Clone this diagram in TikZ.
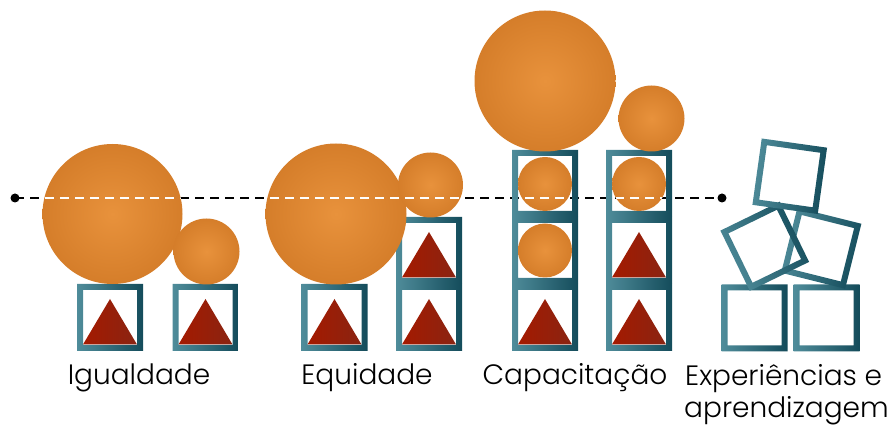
\documentclass[tikz,border=0pt]{standalone}
\usepackage{fontspec}
\setmainfont{Poppins}[UprightFont={* Light}]
\definecolor{orL}{HTML}{E8923C}
\definecolor{orD}{HTML}{C26918}
\definecolor{tlL}{HTML}{4F8C9A}
\definecolor{tlD}{HTML}{144C5B}
\definecolor{rdL}{HTML}{A41A00}
\definecolor{rdD}{HTML}{8A2412}
\pgfdeclareradialshading{orb}{\pgfpoint{0bp}{0bp}}{color(0bp)=(orL); color(50bp)=(orD)}
\tikzset{
  orbfill/.style={shading=orb},
  frame/.pic={\shade[left color=tlL, right color=tlD, even odd rule]
     (-33,-33.5) rectangle (33,33.5) (-27,-27.5) rectangle (27,27.5);},
  rframe/.pic={\shade[left color=tlL, right color=tlD, shading angle=90+#1, even odd rule, rotate=#1]
     (-33,-33.5) rectangle (33,33.5) (-27,-27.5) rectangle (27,27.5);},
  tri/.pic={\shade[left color=rdL, right color=rdD]
     (-27,27) -- (0,-18.5) -- (27,27) -- cycle;},
  dashline/.style={line width=2.4pt, dash pattern=on 8.5pt off 6.5pt},
  lbl/.style={font=\fontsize{28}{32}\selectfont, inner sep=0pt, anchor=base},
}
\begin{document}
\begin{tikzpicture}[x=1pt,y=-1pt]
\useasboundingbox (0,0) rectangle (892,427);
% ---------- dashed line (behind the shapes)
\coordinate (dotA) at (15,198);
\coordinate (dotB) at (722,198);
\draw[dashline, black] (dotA) -- (dotB);
% ---------- Igualdade
\pic at (110,317.5) {frame}; \pic at (110,317.5) {tri};
\pic at (205.5,317.5) {frame}; \pic at (205.5,317.5) {tri};
\shade[orbfill] (112.5,214) circle (70);
\shade[orbfill] (206.5,251.5) circle (33);
% ---------- Equidade
\pic at (334.5,317.5) {frame}; \pic at (334.5,317.5) {tri};
\pic at (429,317.5) {frame}; \pic at (429,317.5) {tri};
\pic at (429,250.5) {frame}; \pic at (429,250.5) {tri};
\shade[orbfill] (336,214) circle (70.5);
\shade[orbfill] (430.5,185) circle (32.5);
% ---------- Capacitacao
\pic at (545,317.5) {frame}; \pic at (545,317.5) {tri};
\pic at (545,250.5) {frame};
\pic at (545,183.5) {frame};
\pic at (639,317.5) {frame}; \pic at (639,317.5) {tri};
\pic at (639,250.5) {frame}; \pic at (639,250.5) {tri};
\pic at (639,183.5) {frame};
\shade[orbfill] (545,250.5) circle (27);
\shade[orbfill] (545,184) circle (27);
\shade[orbfill] (639,184) circle (27);
\shade[orbfill] (545,81) circle (70.5);
\shade[orbfill] (651.5,118.5) circle (33);
% ---------- Experiencias
\pic at (754.5,318) {frame};
\pic at (826.5,318) {frame};
\pic at (821.25,248.25) {rframe=-14};
\pic at (764.75,246.25) {rframe=26};
\pic at (789.75,176.25) {rframe=-8};
% ---------- white dashes over the orbs
\begin{scope}
\clip (112.5,214) circle (70) (336,214) circle (70.5) (430.5,185) circle (32.5)
      (545,184) circle (27) (639,184) circle (27);
\draw[dashline, white] (dotA) -- (dotB);
\end{scope}
\fill (dotA) circle (4.5);
\fill (dotB) circle (4.5);
% ---------- labels
\node[lbl] (l1) at (139,385) {Igualdade};
\node[lbl] (l2) at (367,385) {Equidade};
\node[lbl] (l3) at (575,385) {Capacitação};
\node[lbl, anchor=base west] (l4) at (685,386) {Experiências e};
\node[lbl, anchor=base west] (l5) at (684,418) {aprendizagem};
\end{tikzpicture}
\end{document}
